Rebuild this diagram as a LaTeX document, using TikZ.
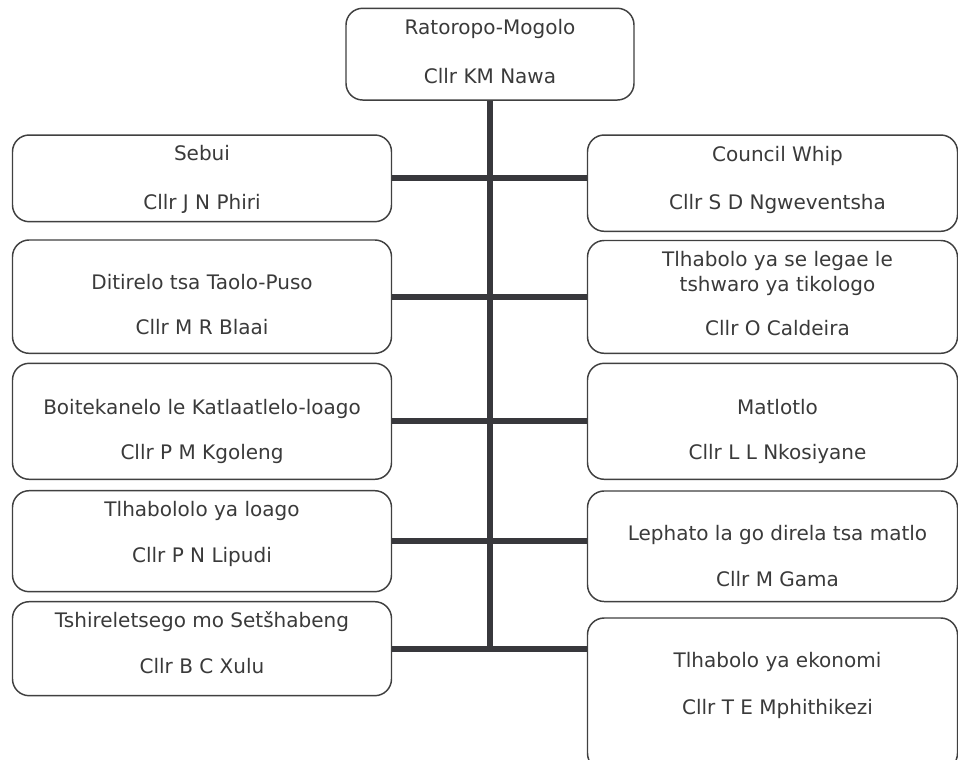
\documentclass[tikz,border=0pt]{standalone}
\usepackage{fontspec}
\setmainfont{DejaVu Sans}
\definecolor{boxgray}{HTML}{404040}
\definecolor{linegray}{HTML}{38383C}
\definecolor{txtgray}{HTML}{3A3A3A}
\begin{document}
\begin{tikzpicture}[x=0.75pt,y=-0.75pt,
  box/.style={draw=boxgray, line width=1.1pt, rounded corners=12.5pt, fill=white, inner sep=0pt},
  lbox/.style={box, minimum width=284.25pt},
  rbox/.style={box, minimum width=277.5pt},
  txt/.style={anchor=base, inner sep=0pt, text=txtgray, font=\fontsize{15pt}{18pt}\selectfont},
  conn/.style={draw=linegray, line width=4.5pt}]
\fill[white] (0,0) rectangle (958,760);
\useasboundingbox (0,0) rectangle (958,760);

% top box
\node[box, minimum width=216pt, minimum height=68.8pt] (top) at (490,54.15) {};
% left column
\node[lbox, minimum height=65pt]    (L1) at (202,178.35) {};
\node[lbox, minimum height=85pt]    (L2) at (202,296.65) {};
\node[lbox, minimum height=87pt]    (L3) at (202,421.3) {};
\node[lbox, minimum height=75.75pt] (L4) at (202,541.2) {};
\node[lbox, minimum height=70.5pt]  (L5) at (202,648.7) {};
% right column
\node[rbox, minimum height=72.2pt]  (R1) at (772.5,183.15) {};
\node[rbox, minimum height=84.6pt]  (R2) at (772.5,296.9) {};
\node[rbox, minimum height=87pt]    (R3) at (772.5,421.3) {};
\node[rbox, minimum height=82.9pt]  (R4) at (772.5,546.25) {};
\node[rbox, minimum height=114pt]   (R5) at (772.5,694) {};

% connectors
\coordinate (trunkend) at (490,651.7);
\draw[conn] (top.south) -- (trunkend);
\draw[conn] (L1.east) -- (L1.east -| R1.west);
\draw[conn] (L2.east) -- (L2.east -| R2.west);
\draw[conn] (L3.east) -- (L3.east -| R3.west);
\draw[conn] (L4.east) -- (L4.east -| R4.west);
\draw[conn] (L5.east) -- (L5.east -| R5.west);

% texts
\node[txt] (topa) at (490,34.3) {Ratoropo-Mogolo};
\node[txt] (topb) at (490,83.3) {Cllr KM Nawa};

\node[txt] (L1a) at (202,160.6) {Sebui};
\node[txt] (L1b) at (202,209) {Cllr J N Phiri};
\node[txt] (L2a) at (202,289) {Ditirelo tsa Taolo-Puso};
\node[txt] (L2b) at (202,334.6) {Cllr M R Blaai};
\node[txt] (L3a) at (202,414) {Boitekanelo le Katlaatlelo-loago};
\node[txt] (L3b) at (202,459.6) {Cllr P M Kgoleng};
\node[txt] (L4a) at (202,516.3) {Tlhabololo ya loago};
\node[txt] (L4b) at (202,562.3) {Cllr P N Lipudi};
\node[txt] (L5a) at (202,627.3) {Tshireletsego mo Setšhabeng};
\node[txt] (L5b) at (202,673.3) {Cllr B C Xulu};

\node[txt] (R1a) at (777.5,161.6) {Council Whip};
\node[txt] (R1b) at (777.5,209) {Cllr S D Ngweventsha};
\node[txt] (R2a) at (777.5,266.6) {Tlhabolo ya se legae le};
\node[txt] (R2b) at (777.5,291.6) {tshwaro ya tikologo};
\node[txt] (R2c) at (777.5,335.6) {Cllr O Caldeira};
\node[txt] (R3a) at (777.5,414) {Matlotlo};
\node[txt] (R3b) at (777.5,459) {Cllr L L Nkosiyane};
\node[txt] (R4a) at (777.5,540.6) {Lephato la go direla tsa matlo};
\node[txt] (R4b) at (777.5,586.6) {Cllr M Gama};
\node[txt] (R5a) at (777.5,667.3) {Tlhabolo ya ekonomi};
\node[txt] (R5b) at (777.5,714) {Cllr T E Mphithikezi};
\end{tikzpicture}
\end{document}
